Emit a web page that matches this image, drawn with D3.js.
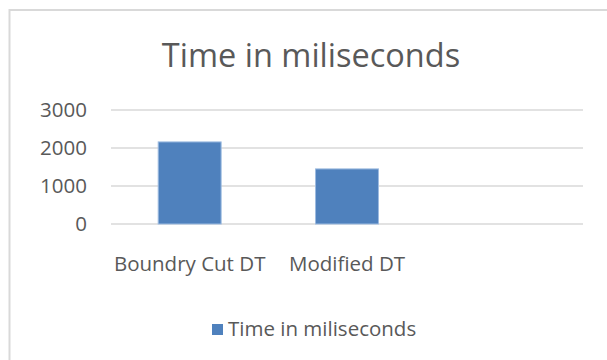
<!DOCTYPE html>
<html>
<head>
<meta charset="utf-8">
<script src="https://cdn.jsdelivr.net/npm/d3@7"></script>
<style>
  html, body { margin: 0; padding: 0; background: #fff; }
  svg { display: block; font-family: "Open Sans", "Liberation Sans", sans-serif; }
</style>
</head>
<body>
<svg id="chart" width="607" height="360"></svg>
<script>
const title = "Time in miliseconds";
const seriesName = "Time in miliseconds";
const categories = ["Boundry Cut DT", "Modified DT", ""];
const values = [2160, 1450, null];
const yTicks = [0, 1000, 2000, 3000];

const svg = d3.select("#chart");
const W = 607, H = 360;
const margin = { left: 111, right: 24, top: 110, bottom: 136 };
const plotW = W - margin.left - margin.right;
const plotH = H - margin.top - margin.bottom;

// chart border
svg.append("rect")
  .attr("x", 9.5).attr("y", 10)
  .attr("width", 620).attr("height", 380)
  .attr("fill", "#fff")
  .attr("stroke", "#d9d9d9").attr("stroke-width", 2);

// title
svg.append("text")
  .attr("x", 311).attr("y", 66.5)
  .attr("text-anchor", "middle")
  .attr("font-size", 32.5)
  .attr("fill", "#595959")
  .text(title);

const g = svg.append("g").attr("transform", `translate(${margin.left},${margin.top})`);

const x = d3.scaleBand()
  .domain(categories.map((c, i) => i))
  .range([0, plotW])
  .paddingInner(0.6)
  .paddingOuter(0.3);

const y = d3.scaleLinear().domain([0, 3000]).range([plotH, 0]);

// gridlines
g.append("g")
  .selectAll("line")
  .data(yTicks)
  .join("line")
  .attr("x1", 0).attr("x2", plotW)
  .attr("y1", d => y(d)).attr("y2", d => y(d))
  .attr("stroke", "#d9d9d9").attr("stroke-width", 1.3);

// y axis labels
const yAxis = g.append("g").call(
  d3.axisLeft(y).tickValues(yTicks).tickFormat(d3.format("d")).tickSize(0).tickPadding(24)
);
yAxis.select(".domain").remove();
yAxis.selectAll("text")
  .attr("font-size", 20.5)
  .attr("font-family", "Open Sans")
  .attr("fill", "#595959");

// bars
g.append("g")
  .selectAll("rect")
  .data(values.map((v, i) => ({ i, v })).filter(d => d.v != null))
  .join("rect")
  .attr("x", d => x(d.i))
  .attr("width", x.bandwidth())
  .attr("y", d => y(d.v))
  .attr("height", d => y(0) - y(d.v))
  .attr("fill", "#4f81bd")
  .attr("stroke", "#9dbbe0")
  .attr("stroke-width", 1);

// x axis labels
const xAxis = g.append("g")
  .attr("transform", `translate(0,${plotH})`)
  .call(d3.axisBottom(x).tickFormat(i => categories[i]).tickSize(0).tickPadding(32));
xAxis.select(".domain").remove();
xAxis.selectAll("text")
  .attr("font-size", 20.5)
  .attr("font-family", "Open Sans")
  .attr("fill", "#595959");

// legend
const lg = svg.append("g").attr("transform", "translate(212,324)");
lg.append("rect").attr("width", 11).attr("height", 11).attr("fill", "#4f81bd");
lg.append("text")
  .attr("x", 16).attr("y", 12)
  .attr("font-size", 20.5)
  .attr("fill", "#595959")
  .text(seriesName);
</script>
</body>
</html>
